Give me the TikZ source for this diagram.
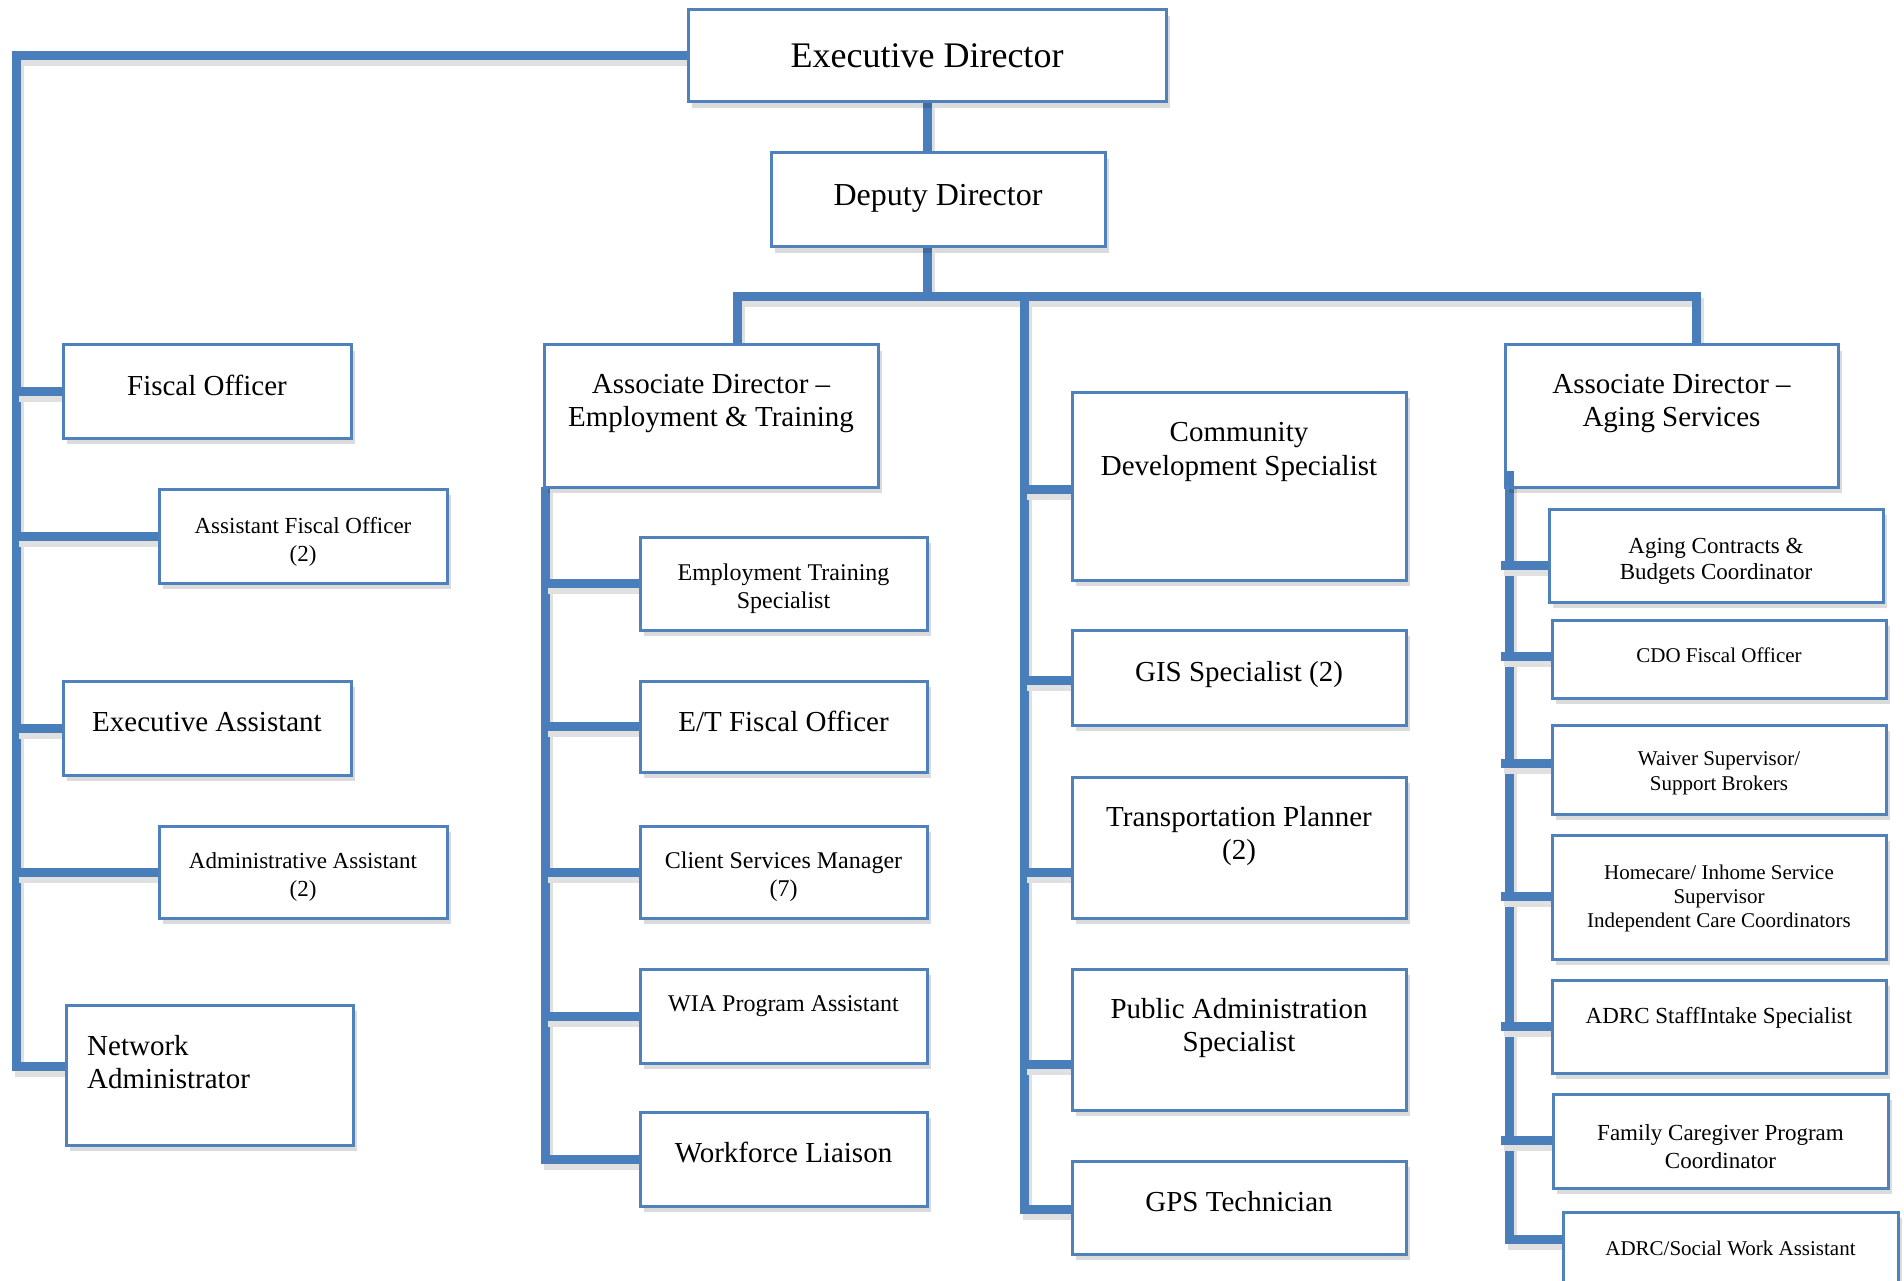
\documentclass[tikz,border=0pt]{standalone}
\usepackage{fontspec}
\setmainfont{Liberation Serif}
\usetikzlibrary{shadows,calc,backgrounds}
\definecolor{lineblue}{HTML}{4A7EBB}
\definecolor{boxblue}{HTML}{4F81BD}
\tikzset{
 orgbox/.style={draw=boxblue, line width=3pt, fill=white, inner sep=0pt, outer sep=0pt,
   drop shadow={shadow xshift=4pt, shadow yshift=-6pt, fill=black, opacity=0.14}},
 conn/.style={draw=lineblue, line width=9pt,
   preaction={draw=black!12, line width=9pt, transform canvas={shift={(3pt,-6pt)}}}},
 lbl/.style={inner sep=0pt, align=center, text=black},
}
% name, x1, y1, x2, y2, text y, font size, baselineskip, text
\newcommand\orgnode[9]{%
 \node[orgbox, minimum width={#4pt-#2pt}, minimum height={#5pt-#3pt}] (#1) at ({(#2+#4)/2},{(#3+#5)/2}) {};
 \node[lbl, font=\fontsize{#7}{#8}\selectfont] (#1t) at ({(#2+#4)/2},{#6+3}) {#9};
}
\begin{document}
\begin{tikzpicture}[x=1pt,y=-1pt]
\useasboundingbox (0,0) rectangle (1904,1281);
\clip (0,0) rectangle (1904,1281);
\orgnode{ed}{688}{10}{1166}{102}{53}{36}{40}{Executive Director}
\orgnode{dd}{771}{153}{1105}{247}{195}{32}{36}{Deputy Director}
% left column
\orgnode{fo}{63}{345}{351}{438}{382}{29}{33}{Fiscal Officer}
\orgnode{afo}{159}{489}{447}{583}{539}{23}{28}{Assistant Fiscal Officer\\(2)}
\orgnode{ea}{63}{681}{351}{775}{719}{29}{33}{Executive Assistant}
\orgnode{aa}{159}{826}{447}{918}{874}{23}{28}{Administrative Assistant\\(2)}
\orgnode{na}{66}{1005}{353}{1145}{1060}{29}{33}{}
\node[lbl, align=left, anchor=west, font=\fontsize{29}{33}\selectfont] (natext) at (87,1062) {Network\\Administrator};
% E&T column
\orgnode{adet}{544}{345}{878}{487}{401}{29}{33}{Associate Director --\\Employment \& Training}
\orgnode{ets}{640}{537}{927}{630}{586}{24}{28}{Employment Training\\Specialist}
\orgnode{etfo}{640}{681}{927}{772}{718}{29}{33}{E/T Fiscal Officer}
\orgnode{csm}{640}{826}{927}{918}{874}{24}{28}{Client Services Manager\\(7)}
\orgnode{wia}{640}{969}{927}{1063}{1003}{24}{28}{WIA Program Assistant}
\orgnode{wl}{640}{1112}{927}{1206}{1150}{29}{33}{Workforce Liaison}
% middle column
\orgnode{cds}{1072}{392}{1406}{580}{449}{29}{34}{Community\\Development Specialist}
\orgnode{gis}{1072}{630}{1406}{725}{672}{29}{33}{GIS Specialist (2)}
\orgnode{tp}{1072}{777}{1406}{918}{833}{29}{33}{Transportation Planner\\(2)}
\orgnode{pas}{1072}{969}{1406}{1110}{1025}{29}{33}{Public Administration\\Specialist}
\orgnode{gps}{1072}{1161}{1406}{1254}{1199}{29}{33}{GPS Technician}
% aging column
\orgnode{ada}{1505}{345}{1838}{487}{401}{29}{33}{Associate Director --\\Aging Services}
\orgnode{acb}{1549}{509}{1883}{602}{558}{23}{26}{Aging Contracts \&\\Budgets Coordinator}
\orgnode{cdo}{1552}{620}{1886}{698}{652}{21}{25}{CDO Fiscal Officer}
\orgnode{ws}{1552}{725}{1886}{814}{770}{21}{25}{Waiver Supervisor/\\Support Brokers}
\orgnode{hc}{1552}{835}{1886}{959}{895}{21}{24}{Homecare/ Inhome Service\\Supervisor\\Independent Care Coordinators}
\orgnode{adrc}{1552}{980}{1886}{1073}{1015}{23}{27}{ADRC StaffIntake Specialist}
\orgnode{fcg}{1553}{1094}{1888}{1188}{1144}{23}{28}{Family Caregiver Program\\Coordinator}
\orgnode{asw}{1563}{1212}{1898}{1300}{1245}{21}{25}{ADRC/Social Work Assistant}
% trunk coordinates
\coordinate (L) at (16,0);
\coordinate (E) at (545,0);
\coordinate (M) at (1024,297);
\coordinate (R) at (1509,0);
\coordinate (R2) at (1501,0);
\coordinate (BL) at (737,297);
\coordinate (BR) at (1696,297);
\coordinate (rtop) at (1509,471);
\coordinate (naj) at ($(na.west)+(0,-9)$);
\coordinate (gpsj) at ($(gps.west)+(0,2)$);
\coordinate (aswj) at ($(asw.west)+(0,-17)$);
\begin{pgfonlayer}{background}
 % executive to deputy to bus
 \draw[conn] (ed.south) -- (ed.south |- dd.north);
 \draw[conn] (ed.south |- dd.south) -- (ed.south |- M);
 \draw[conn] (BL |- adet.north) -- (BL) -- (BR) -- (BR |- ada.north);
 % left trunk
 \draw[conn] (ed.west) -| (L |- naj) -- (naj);
 \foreach \n in {fo,afo,ea,aa} \draw[conn] (L |- \n.west) -- (\n.west);
 % E&T trunk
 \draw[conn] (E |- adet.south) -- (E |- wl.west) -- (wl.west);
 \foreach \n in {ets,etfo,csm,wia} \draw[conn] (E |- \n.west) -- (\n.west);
 % middle trunk
 \draw[conn] (M) -- (M |- gpsj) -- (gpsj);
 \foreach \n/\d in {cds/3,gis/3,tp/25,pas/25} \draw[conn] (M |- {$(\n.west)+(0,\d)$}) -- ($(\n.west)+(0,\d)$);
 % aging trunk
 \draw[conn] (rtop) -- (R |- aswj) -- (aswj);
 \foreach \n/\d in {acb/10,cdo/-3,ws/-6,hc/-1,adrc/0,fcg/-1} \draw[conn] (R2 |- {$(\n.west)+(0,\d)$}) -- ($(\n.west)+(0,\d)$);
\end{pgfonlayer}
\draw[draw=lineblue, line width=9pt] (rtop) -- (R |- ada.south);
\end{tikzpicture}
\end{document}
